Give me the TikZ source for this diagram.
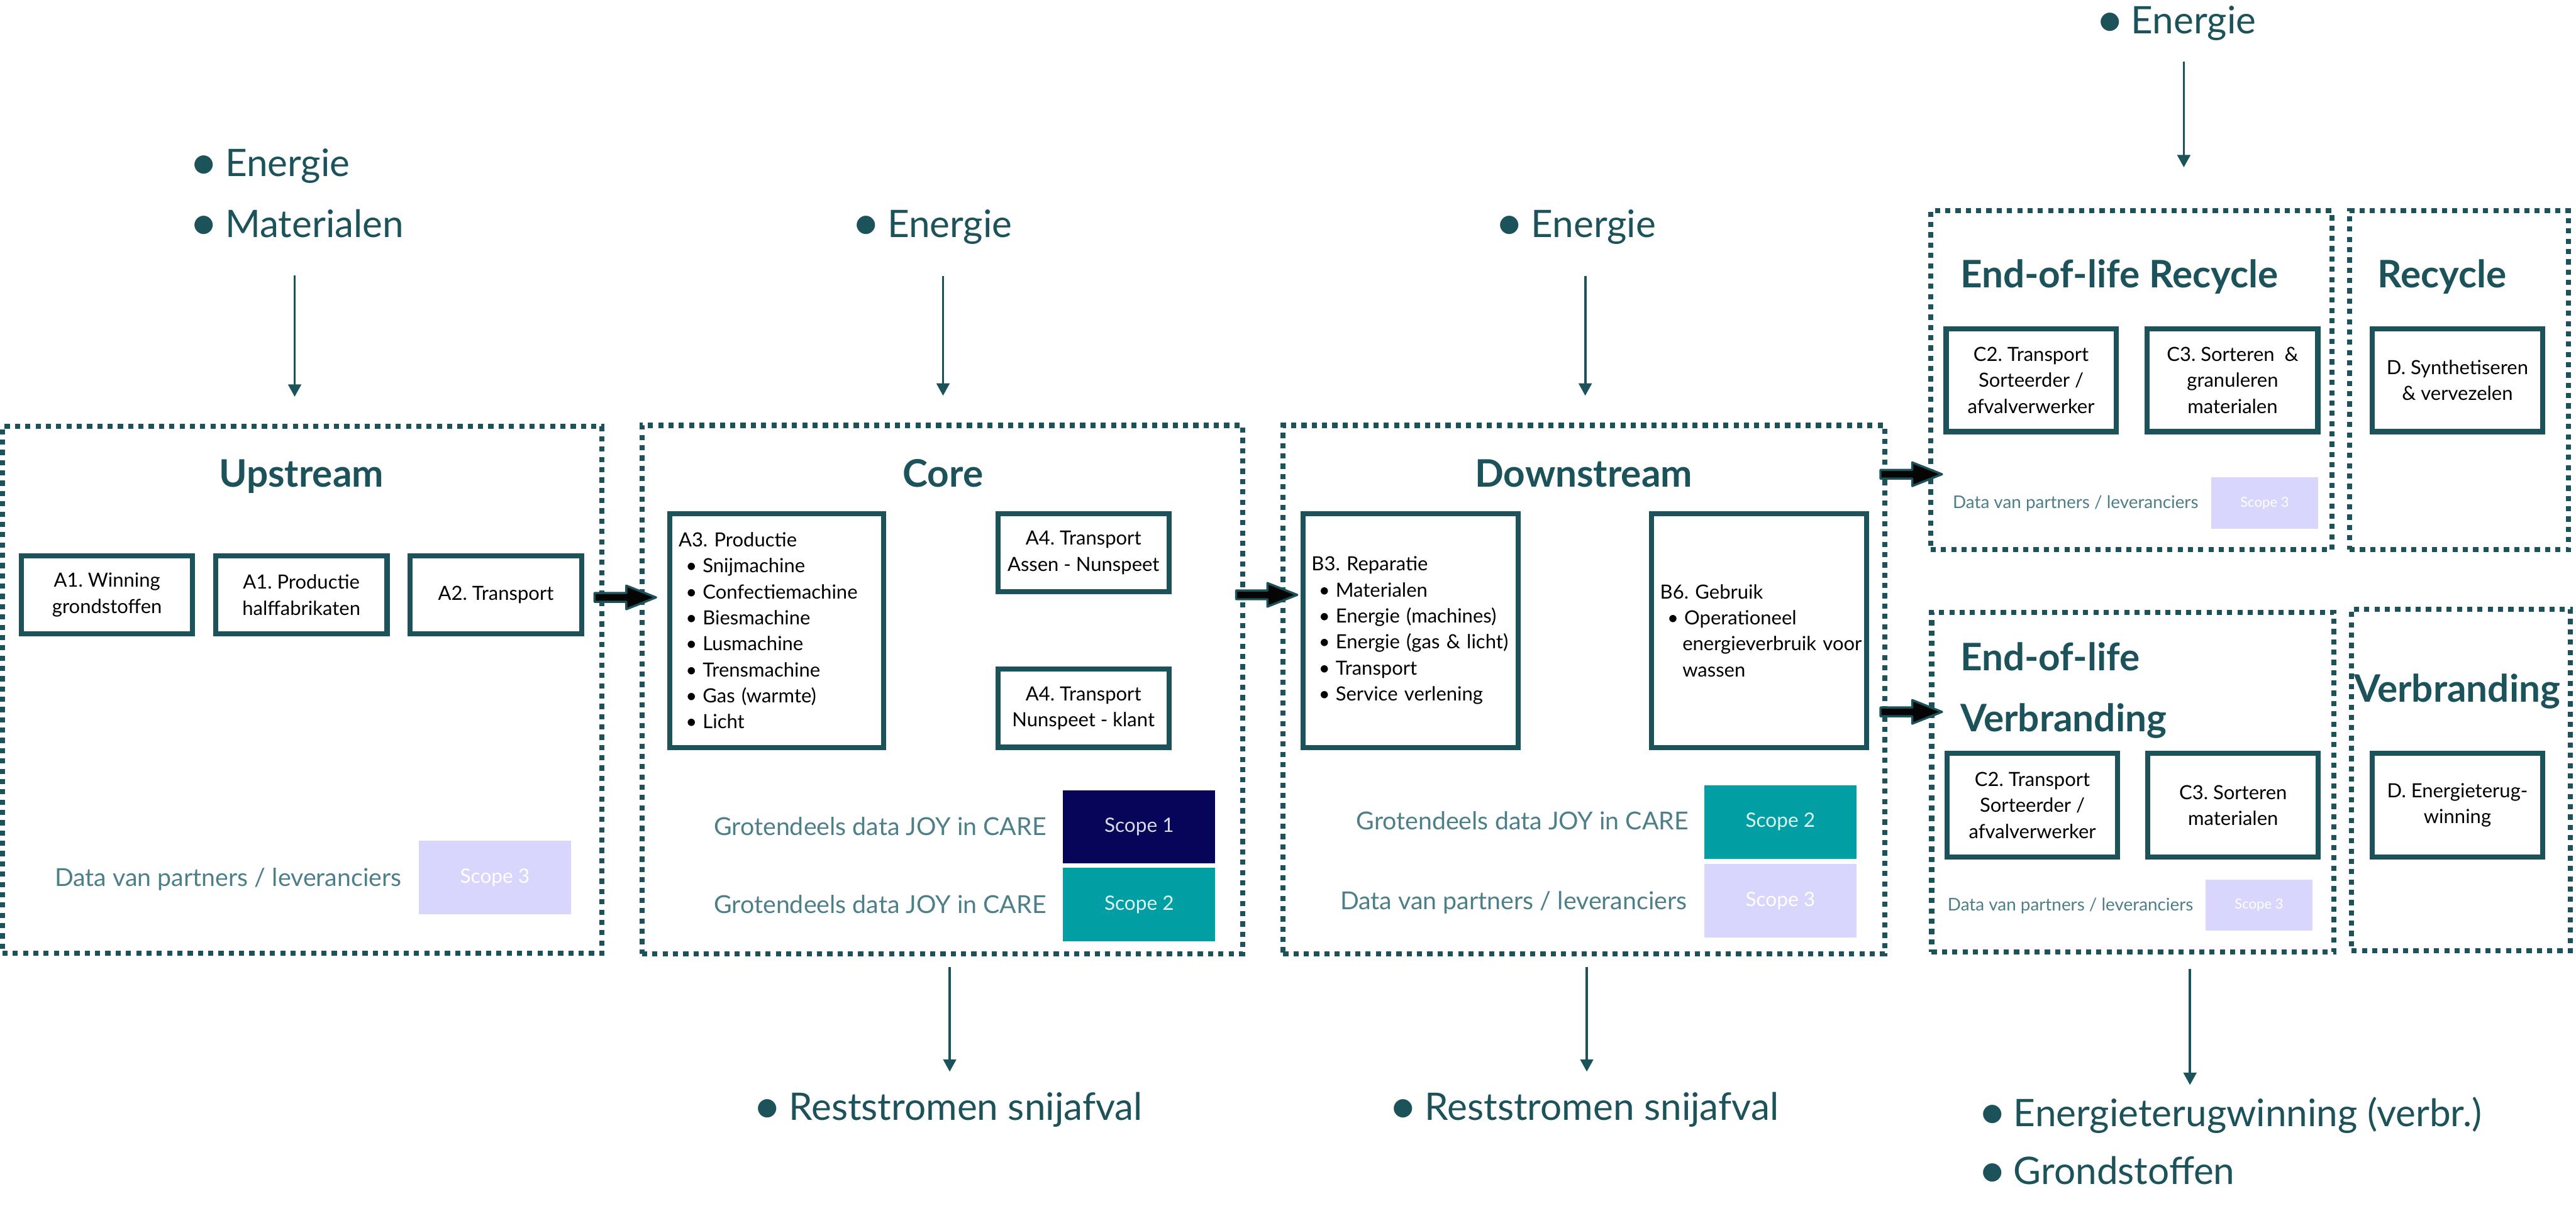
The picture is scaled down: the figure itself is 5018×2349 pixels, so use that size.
\documentclass[tikz,border=0pt]{standalone}
\usepackage{fontspec}
\usepackage{graphicx}
\setmainfont{Lato}
\usetikzlibrary{arrows.meta,calc}
\frenchspacing
\definecolor{tealA}{HTML}{1C525A}
\definecolor{dataC}{HTML}{4C7F88}
\definecolor{navyS}{HTML}{07055A}
\definecolor{tealS}{HTML}{019FA3}
\definecolor{lavS}{HTML}{D8D6FC}
\definecolor{arrK}{HTML}{050505}
\newcommand\myOuterFont{\fontsize{21pt}{25pt}\selectfont}
\newcommand\myTitleFont{\fontsize{21pt}{25pt}\selectfont\bfseries}
\newcommand\myBoxFont{\fontsize{10.8pt}{14.4pt}\selectfont}
\newcommand\myDataFont{\fontsize{13.7pt}{16pt}\selectfont}
\newcommand\mySmallDataFont{\fontsize{9.7pt}{12pt}\selectfont}
\newcommand\myScopeFont{\fontsize{11pt}{13pt}\selectfont}
\newcommand\mySmallScopeFont{\fontsize{7.7pt}{9pt}\selectfont}
\newcommand\bul{\hspace*{0.14cm}\textbullet\hspace{0.11cm}}
\newcommand\obul{\llap{\raisebox{-0.07em}{\scalebox{1.3}{\textbullet}}\hspace{0.14cm}}}
\newcommand\myBlockArrow[2]{%
  \draw[blockarr] let \p1=(#1), \p2=(#2) in
  (\x1,\y1+0.085cm) -- (\x2-0.58cm,\y1+0.085cm) -- (\x2-0.58cm,\y1+0.23cm) -- (\x2,\y1)
  -- (\x2-0.58cm,\y1-0.23cm) -- (\x2-0.58cm,\y1-0.085cm) -- (\x1,\y1-0.085cm) -- cycle;}
\begin{document}
\begin{tikzpicture}[x=0.01cm,y=-0.01cm,
  dotbox/.style={draw=tealA, line width=2.85pt, dash pattern=on 2.85pt off 2.85pt, rectangle, inner sep=0pt},
  solidbox/.style={draw=tealA, line width=2.85pt, fill=white, rectangle, inner sep=0pt, font=\myBoxFont, text=black, align=center},
  listbox/.style={solidbox, align=left, inner xsep=0.17cm},
  titletext/.style={inner sep=0pt, font=\myTitleFont, text=tealA},
  outertext/.style={inner sep=0pt, font=\myOuterFont, text=tealA, anchor=base west},
  datatext/.style={inner sep=0pt, font=\myDataFont, text=dataC, anchor=base east},
  smalldata/.style={inner sep=0pt, font=\mySmallDataFont, text=dataC, anchor=base east},
  scopebox/.style={rectangle, inner sep=0pt, font=\myScopeFont, minimum width=2.96cm, minimum height=1.43cm},
  smallscope/.style={rectangle, inner sep=0pt, font=\mySmallScopeFont, minimum width=2.07cm, minimum height=1.0cm, fill=lavS, text=white},
  varrow/.style={draw=tealA, line width=1.3pt, -{Triangle[length=0.24cm,width=0.25cm]}},
  blockarr/.style={fill=arrK, draw=tealA, line width=1.2pt, line join=round}
]
\useasboundingbox[fill=white] (0,0) rectangle (5018,2349);

% ---------- dotted stage boxes ----------
\node[dotbox, minimum width=11.67cm, minimum height=10.26cm] (up) at (588.5,1344) {};
\node[dotbox, minimum width=11.69cm, minimum height=10.29cm] (core) at (1835.5,1343.5) {};
\node[dotbox, minimum width=11.71cm, minimum height=10.29cm] (down) at (3085.5,1343.5) {};
\node[dotbox, minimum width=7.81cm, minimum height=6.60cm] (eolr) at (4151.5,741) {};
\node[dotbox, minimum width=4.26cm, minimum height=6.60cm] (rec) at (4790,741) {};
\node[dotbox, minimum width=7.83cm, minimum height=6.62cm] (eolv) at (4154.5,1524) {};
\node[dotbox, minimum width=4.26cm, minimum height=6.65cm] (verb) at (4794,1519.5) {};

% ---------- titles ----------
\node[titletext, anchor=base] (tUp) at (587,949) {Upstream};
\node[titletext, anchor=base] (tCore) at (1837,949) {Core};
\node[titletext, anchor=base] (tDown) at (3085,949) {Downstream};
\node[titletext, anchor=base west] (tEolR) at (3818,561) {End-of-life Recycle};
\node[titletext, anchor=base west] (tRec) at (4631,561) {Recycle};
\node[titletext, anchor=base west] (tEolV1) at (3818,1307) {End-of-life};
\node[titletext, anchor=base west] (tEolV2) at (3818,1426) {Verbranding};
\node[titletext, anchor=base west] (tVerb) at (4585,1368) {Verbranding};

% ---------- upstream ----------
\node[solidbox, minimum width=3.33cm, minimum height=1.52cm] (a1w) at (208.5,1159) {A1. Winning\\grondstoffen};
\node[solidbox, minimum width=3.34cm, minimum height=1.52cm] (a1p) at (587,1159) {A1. Productie\\halffabrikaten};
\node[solidbox, minimum width=3.34cm, minimum height=1.52cm] (a2) at (966,1159) {A2. Transport};
\node[datatext] (dUp) at (783,1727) {Data van partners / leveranciers};
\node[scopebox, fill=lavS, text=white] (sUp) at (964,1709.5) {Scope 3};

% ---------- core ----------
\node[listbox, text width=3.82cm, minimum height=4.55cm] (a3) at (1513,1228.5)
  {A3. Productie\\ \bul Snijmachine\\ \bul Confectiemachine\\ \bul Biesmachine\\ \bul Lusmachine\\ \bul Trensmachine\\ \bul Gas (warmte)\\ \bul Licht};
\node[solidbox, minimum width=3.33cm, minimum height=1.52cm] (a4a) at (2110.5,1077) {A4. Transport\\Assen - Nunspeet};
\node[solidbox, minimum width=3.33cm, minimum height=1.52cm] (a4b) at (2110.5,1380) {A4. Transport\\Nunspeet - klant};
\node[datatext] (dCore1) at (2039,1628) {Grotendeels data JOY in CARE};
\node[datatext] (dCore2) at (2039,1779) {Grotendeels data JOY in CARE};
\node[scopebox, fill=navyS, text=white!85!navyS] (sCore1) at (2219,1611) {Scope 1};
\node[scopebox, fill=tealS, text=white!88!tealS] (sCore2) at (2219,1762.5) {Scope 2};

% ---------- downstream ----------
\node[listbox, text width=3.85cm, minimum height=4.55cm] (b3) at (2747.5,1228.5)
  {B3. Reparatie\\ \bul Materialen\\ \bul Energie (machines)\\ \bul Energie (gas \& licht)\\ \bul Transport\\ \bul Service verlening};
\node[listbox, text width=3.85cm, minimum height=4.55cm] (b6) at (3426.5,1228.5)
  {B6. Gebruik\\ \bul Operationeel\\ \hspace*{0.435cm}\mbox{energieverbruik voor}\\ \hspace*{0.435cm}wassen};
\node[datatext] (dDown1) at (3290,1617) {Grotendeels data JOY in CARE};
\node[datatext] (dDown2) at (3287,1772) {Data van partners / leveranciers};
\node[scopebox, fill=tealS, text=white!88!tealS] (sDown2) at (3468,1601.5) {Scope 2};
\node[scopebox, fill=lavS, text=white] (sDown3) at (3468,1755) {Scope 3};

% ---------- end-of-life recycle ----------
\node[solidbox, minimum width=3.31cm, minimum height=2.00cm] (c2r) at (3956.5,741) {C2. Transport\\Sorteerder /\\afvalverwerker};
\node[solidbox, minimum width=3.32cm, minimum height=2.00cm] (c3r) at (4349,741) {C3. Sorteren\ \ \&\\granuleren\\materialen};
\node[solidbox, minimum width=3.32cm, minimum height=2.00cm] (dr) at (4787,741) {D. Synthetiseren\\\& vervezelen};
\node[smalldata] (dEolR) at (4283,991) {Data van partners / leveranciers};
\node[smallscope] (sEolR) at (4411.5,980) {Scope 3};

% ---------- end-of-life verbranding ----------
\node[solidbox, minimum width=3.32cm, minimum height=2.02cm] (c2v) at (3959,1569) {C2. Transport\\Sorteerder /\\afvalverwerker};
\node[solidbox, minimum width=3.32cm, minimum height=2.02cm] (c3v) at (4350,1569) {C3. Sorteren\\materialen};
\node[solidbox, minimum width=3.32cm, minimum height=2.02cm] (dv) at (4787,1569) {D. Energieterug-\\winning};
\node[smalldata] (dEolV) at (4273,1774) {Data van partners / leveranciers};
\node[smallscope] (sEolV) at (4400.5,1763.5) {Scope 3};

% ---------- inputs / outputs ----------
\node[outertext] (inUp1) at (438,344) {\obul Energie};
\node[outertext] (inUp2) at (438,462) {\obul Materialen};
\node[outertext] (inCore) at (1728,462) {\obul Energie};
\node[outertext] (inDown) at (2982,462) {\obul Energie};
\node[outertext] (inEol) at (4151,66) {\obul Energie};
\node[outertext] (outCore) at (1536,2183) {\obul Reststromen snijafval};
\node[outertext] (outDown) at (2775,2183) {\obul Reststromen snijafval};
\node[outertext] (outEol1) at (3922,2195) {\obul Energieterugwinning (verbr.)};
\node[outertext] (outEol2) at (3922,2308) {\obul Grondstoffen};

% ---------- vertical arrows ----------
\coordinate (vUpA) at (574,536);   \coordinate (vUpB) at (574,773);
\coordinate (vCoA) at (1837,538);  \coordinate (vCoB) at (1837,771);
\coordinate (vDoA) at (3088,538);  \coordinate (vDoB) at (3088,771);
\coordinate (vEoA) at (4254,120);  \coordinate (vEoB) at (4254,326);
\coordinate (wCoA) at (1850,1884); \coordinate (wCoB) at (1850,2088);
\coordinate (wDoA) at (3091,1884); \coordinate (wDoB) at (3091,2088);
\coordinate (wEoA) at (4266,1888); \coordinate (wEoB) at (4266,2114);
\draw[varrow] (vUpA) -- (vUpB);
\draw[varrow] (vCoA) -- (vCoB);
\draw[varrow] (vDoA) -- (vDoB);
\draw[varrow] (vEoA) -- (vEoB);
\draw[varrow] (wCoA) -- (wCoB);
\draw[varrow] (wDoA) -- (wDoB);
\draw[varrow] (wEoA) -- (wEoB);

% ---------- block arrows ----------
\coordinate (bA1) at (1158,1164); \coordinate (bA2) at (1278,1164);
\coordinate (bB1) at (2408,1159); \coordinate (bB2) at (2527,1159);
\coordinate (bC1) at (3663,924);  \coordinate (bC2) at (3783,924);
\coordinate (bD1) at (3663,1387); \coordinate (bD2) at (3783,1387);
\myBlockArrow{bA1}{bA2}
\myBlockArrow{bB1}{bB2}
\myBlockArrow{bC1}{bC2}
\myBlockArrow{bD1}{bD2}
\end{tikzpicture}
\end{document}
